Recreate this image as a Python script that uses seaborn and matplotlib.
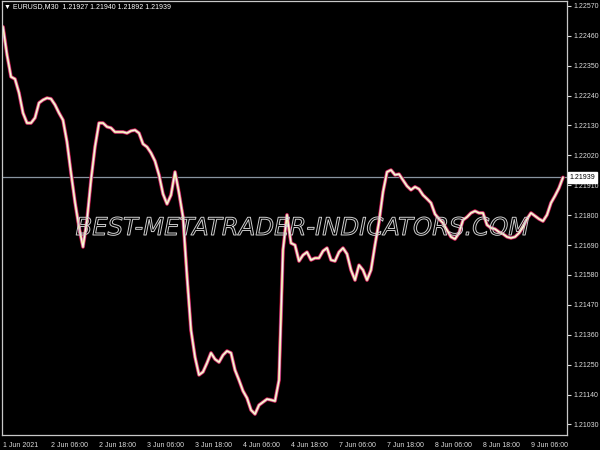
import numpy as np
import pandas as pd
import seaborn as sns
import matplotlib.pyplot as plt
import matplotlib.patheffects as pe

closes = [1.22493, 1.22390, 1.22309, 1.22301, 1.22250, 1.22176, 1.22139, 1.22139, 1.22158, 1.22213,
          1.22224, 1.22231, 1.22228, 1.22206, 1.22176, 1.22150, 1.22069, 1.21955, 1.21848, 1.21756,
          1.21683, 1.21782, 1.21929, 1.22051, 1.22139, 1.22139, 1.22125, 1.22121, 1.22106, 1.22106,
          1.22106, 1.22102, 1.22110, 1.22113, 1.22102, 1.22062, 1.22051, 1.22029, 1.21999, 1.21948,
          1.21878, 1.21841, 1.21874, 1.21959, 1.21882, 1.21793, 1.21576, 1.21377, 1.21278, 1.21212,
          1.21223, 1.21256, 1.21293, 1.21270, 1.21259, 1.21285, 1.21300, 1.21293, 1.21230, 1.21193,
          1.21153, 1.21127, 1.21083, 1.21068, 1.21101, 1.21112, 1.21123, 1.21120, 1.21116, 1.21193,
          1.21672, 1.21801, 1.21697, 1.21690, 1.21631, 1.21653, 1.21664, 1.21635, 1.21642, 1.21642,
          1.21668, 1.21679, 1.21635, 1.21631, 1.21664, 1.21679, 1.21657, 1.21598, 1.21561, 1.21616,
          1.21598, 1.21561, 1.21598, 1.21690, 1.21775, 1.21885, 1.21959, 1.21966, 1.21948, 1.21951,
          1.21929, 1.21907, 1.21893, 1.21904, 1.21896, 1.21874, 1.21860, 1.21845, 1.21804, 1.21786,
          1.21771, 1.21745, 1.21720, 1.21712, 1.21734, 1.21782, 1.21793, 1.21808, 1.21815, 1.21808,
          1.21808, 1.21764, 1.21753, 1.21749, 1.21738, 1.21731, 1.21720, 1.21716, 1.21720, 1.21734,
          1.21756, 1.21786, 1.21808, 1.21797, 1.21786, 1.21778, 1.21801, 1.21845, 1.21871, 1.21900,
          1.21939]
bars = list(range(0, 2 * len(closes), 2))

time_labels = ['1 Jun 2021', '2 Jun 06:00', '2 Jun 18:00', '3 Jun 06:00', '3 Jun 18:00',
               '4 Jun 06:00', '4 Jun 18:00', '7 Jun 06:00', '7 Jun 18:00', '8 Jun 06:00',
               '8 Jun 18:00', '9 Jun 06:00']
time_ticks = [0, 24, 48, 72, 96, 120, 144, 168, 192, 216, 240, 264]
price_ticks = [1.22570, 1.22460, 1.22350, 1.22240, 1.22130, 1.22020, 1.21910, 1.21800,
               1.21690, 1.21580, 1.21470, 1.21360, 1.21250, 1.21140, 1.21030]
last_price = 1.21939
header = 'EURUSD,M30  1.21927 1.21940 1.21892 1.21939'
watermark = 'BEST-METATRADER-INDICATORS.COM'

df = pd.DataFrame({'bar': bars, 'close': closes})

sns.set_theme(style='dark', rc={'axes.facecolor': 'black', 'figure.facecolor': 'black',
                                 'axes.edgecolor': '#c8c8c8', 'xtick.color': '#c8c8c8',
                                 'ytick.color': '#c8c8c8', 'axes.grid': False})
plt.rcParams['font.family'] = ['Liberation Sans', 'DejaVu Sans']

fig = plt.figure(figsize=(6, 4.5), dpi=100)
ax = fig.add_axes([2 / 600, 15 / 450, 565 / 600, 434 / 450])

# layered lines give the multi-colour look of the original
sns.lineplot(data=df, x='bar', y='close', ax=ax, color='#a0001c', lw=2.8)
sns.lineplot(data=df, x='bar', y='close', ax=ax, color='#d080d8', lw=2.0)
sns.lineplot(data=df, x='bar', y='close', ax=ax, color='#f0e060', lw=1.1)
sns.lineplot(data=df, x='bar', y='close', ax=ax, color='white', lw=0.6)

ax.axhline(last_price, color='#8894a0', lw=0.9, zorder=1)

ax.set_xlim(-0.5, 282)
ax.set_ylim(1.20991, 1.22588)
ax.set_xlabel('')
ax.set_ylabel('')

ax.yaxis.tick_right()
ax.set_yticks(price_ticks)
ax.set_yticklabels([f'{p:.5f}' for p in price_ticks])
ax.set_xticks(time_ticks)
ax.set_xticklabels(time_labels, ha='left')
ax.tick_params(axis='both', labelsize=5, colors='#dcdcdc', length=3, width=0.8, pad=2)
for s in ax.spines.values():
    s.set_color('#c8c8c8')
    s.set_linewidth(0.9)

ax.annotate(f'{last_price:.5f}', xy=(1.004, last_price), xycoords=('axes fraction', 'data'),
            va='center', ha='left', fontsize=5, color='black', annotation_clip=False,
            bbox=dict(boxstyle='square,pad=0.25', fc='white', ec='white'))

fig.text(4 / 600, 1 - 7 / 450, '\u25bc ' + header, color='white', fontsize=5, va='center')

fig.text(302 / 600, 1 - 228 / 450, watermark, color='none', fontsize=17.5, style='italic',
         family='DejaVu Sans', ha='center', va='center',
         path_effects=[pe.Stroke(linewidth=0.7, foreground='#cfcfcf')])

fig.savefig('out.png', dpi=100, facecolor='black')
